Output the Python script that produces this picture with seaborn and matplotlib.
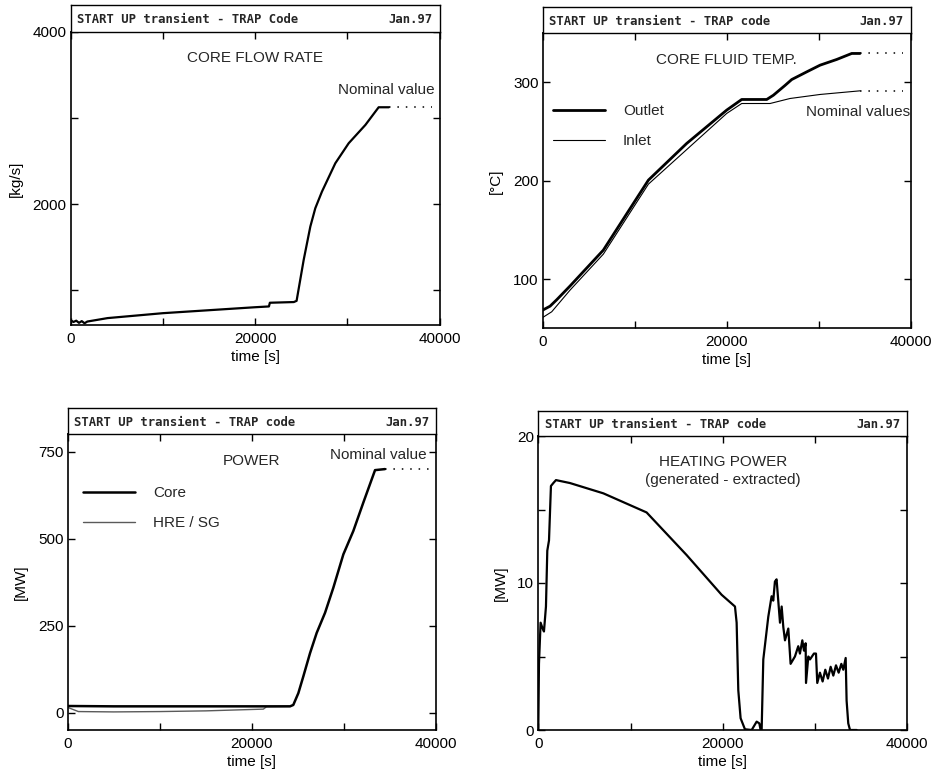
import numpy as np
import pandas as pd
import matplotlib
matplotlib.use("Agg")
import matplotlib.pyplot as plt
import seaborn as sns

# -----------------------------
# DATA
# -----------------------------

flow_t = [0, 300, 600, 900, 1200, 1500, 1800, 4000, 10000, 20000, 21500, 21600,
          24200, 24500, 25270, 25990, 26530, 27250, 28700, 30150, 31960, 33400, 34500]
flow_v = [655, 635, 650, 625, 645, 620, 640, 680, 737, 806, 815, 858,
          866, 880, 1355, 1741, 1954, 2146, 2475, 2707, 2919, 3124, 3124]
flow_nominal = 3124

temp_out_t = [0, 800, 1520, 2970, 6590, 11490, 15650, 20000, 21630, 24350, 25070,
              26340, 27070, 28700, 30150, 31960, 33590, 34490]
temp_out_v = [68.5, 72.5, 79, 93, 129.5, 200.7, 238, 271.9, 282.7, 282.7, 287,
              297, 303, 310.8, 317.6, 323.4, 329.5, 329.5]
temp_in_t = [0, 980, 2970, 6590, 11490, 20000, 21630, 24710, 26880, 30150, 34490]
temp_in_v = [61, 66.8, 88.8, 125.4, 196.6, 268.5, 278.6, 278.6, 283.7, 287.8, 291.5]
temp_out_nominal = 329.5
temp_in_nominal = 291.5

core_t = [0, 5000, 10000, 20000, 24150, 24500, 25050, 25590, 26320, 27040, 27950,
          28850, 29940, 31020, 32110, 33380, 34460]
core_v = [19, 18, 18, 18, 18, 22, 56, 104, 171, 229, 287, 359, 455, 522, 604, 697, 700]
hre_t = [0, 1160, 5000, 10000, 15000, 21250, 21600, 24150]
hre_v = [15, 3, 2, 3, 5, 10, 17, 18]
power_nominal = 700

heat_t = [0, 72, 250, 470, 614, 830, 975, 1160, 1370, 1630, 1915, 3430, 7050, 11380,
          11740, 16080, 19870, 21320, 21500, 21680, 21930, 22400, 23130, 23670, 23960,
          24100, 24210, 24390, 24930, 25290, 25470, 25650, 25830, 26200, 26380, 26560,
          26740, 27100, 27350, 27820, 28180, 28360, 28620, 28800, 28980, 29020, 29270,
          29450, 29880, 30100, 30240, 30530, 30820, 31110, 31400, 31690, 31980, 32270,
          32560, 32850, 33060, 33320, 33420, 33600, 33790, 34510]
heat_v = [0, 4.5, 7.3, 6.9, 6.7, 8.4, 12.2, 12.9, 16.6, 16.8, 17.0, 16.8, 16.1, 14.9,
          14.8, 11.9, 9.2, 8.4, 7.3, 2.7, 0.8, 0.05, 0, 0.57, 0.45,
          0, 0, 4.8, 7.7, 9.1, 8.8, 10.1, 10.25, 7.3, 8.4, 7.0,
          6.1, 6.9, 4.5, 5.0, 5.7, 5.2, 6.1, 5.4, 5.9, 3.2, 5.0,
          4.8, 5.2, 5.2, 3.2, 3.9, 3.3, 4.1, 3.5, 4.3, 3.7, 4.4,
          3.9, 4.5, 4.1, 4.9, 2.0, 0.45, 0, 0]

nominal_t = [34500, 39200]

# -----------------------------
# STYLE
# -----------------------------

sns.set_theme(style="ticks")
plt.rcParams['font.family'] = ['Liberation Sans', 'DejaVu Sans']
plt.rcParams['font.size'] = 11
plt.rcParams['axes.linewidth'] = 1.2

FS = 11
W, H = 935, 774
fig = plt.figure(figsize=(W / 100, H / 100), dpi=100)


def make_panel(left, top, right, bottom, header_h, header_text):
    ax = fig.add_axes([left / W, 1 - bottom / H, (right - left) / W, (bottom - top) / H])
    hd = fig.add_axes([left / W, 1 - top / H, (right - left) / W, header_h / H])
    hd.set_xticks([])
    hd.set_yticks([])
    for s in hd.spines.values():
        s.set_linewidth(1.0)
        s.set_color("black")
    hd.text(0.017, 0.45, header_text, family="DejaVu Sans Mono", fontsize=8.8,
            weight="semibold", va="center", ha="left", transform=hd.transAxes)
    hd.text(0.982, 0.45, "Jan.97", family="DejaVu Sans Mono", fontsize=8.8,
            weight="semibold", va="center", ha="right", transform=hd.transAxes)
    for s in ax.spines.values():
        s.set_visible(True)
        s.set_color("black")
    ax.tick_params(direction="in", length=5, width=1.0, top=True, right=True,
                   colors="black", labelsize=FS)
    ax.tick_params(axis="x", pad=5)
    ax.tick_params(axis="y", pad=3)
    ax.set_xlim(0, 40000)
    ax.set_xticks([0, 10000, 20000, 30000, 40000])
    ax.set_xticklabels(["0", "", "20000", "", "40000"])
    ax.set_xlabel("time [s]", labelpad=3, fontsize=FS, color="black")
    return ax


def nominal(ax, value):
    sns.lineplot(x=nominal_t, y=[value, value], ax=ax, color="black",
                 linewidth=1.1, linestyle=(0, (1, 4.5)))


# ----------------------------------------------------------
# 1. CORE FLOW RATE
# ----------------------------------------------------------

ax1 = make_panel(70.7, 31.7, 439.5, 325, 26.5, "START UP transient - TRAP Code")
sns.lineplot(x=flow_t, y=flow_v, ax=ax1, color="black", linewidth=1.6)
nominal(ax1, flow_nominal)
ax1.set_ylim(600, 4000)
ax1.set_yticks([1000, 2000, 3000, 4000])
ax1.set_yticklabels(["", "2000", "", "4000"])
ax1.set_ylabel("[kg/s]", labelpad=7, fontsize=FS, color="black")
ax1.text(20000, 3690, "CORE FLOW RATE", ha="center", va="center", fontsize=FS)
ax1.text(39500, 3320, "Nominal value", ha="right", va="center", fontsize=FS)

# ----------------------------------------------------------
# 2. CORE FLUID TEMP.
# ----------------------------------------------------------

ax2 = make_panel(542.7, 33.3, 910.7, 328.3, 26, "START UP transient - TRAP code")
sns.lineplot(x=temp_out_t, y=temp_out_v, ax=ax2, color="black", linewidth=2.0,
             label="Outlet")
sns.lineplot(x=temp_in_t, y=temp_in_v, ax=ax2, color="black", linewidth=0.8,
             label="Inlet")
nominal(ax2, temp_out_nominal)
nominal(ax2, temp_in_nominal)
ax2.set_ylim(50, 350)
ax2.set_yticks([100, 200, 300])
ax2.set_ylabel("[°C]", labelpad=7, fontsize=FS, color="black")
ax2.text(20000, 322.7, "CORE FLUID TEMP.", ha="center", va="center", fontsize=FS)
ax2.text(39900, 270, "Nominal values", ha="right", va="center", fontsize=FS)
ax2.legend(loc="upper left", bbox_to_anchor=(0.027, 0.76), frameon=False,
           borderpad=0, borderaxespad=0, handlelength=3.4, handletextpad=1.2,
           labelspacing=1.05, fontsize=FS)

# ----------------------------------------------------------
# 3. POWER
# ----------------------------------------------------------

ax3 = make_panel(67.7, 434.3, 436, 730, 26, "START UP transient - TRAP code")
sns.lineplot(x=hre_t, y=hre_v, ax=ax3, color="#5a5a5a", linewidth=1.0,
             label="HRE / SG")
sns.lineplot(x=core_t, y=core_v, ax=ax3, color="black", linewidth=1.8,
             label="Core")
nominal(ax3, power_nominal)
ax3.set_ylim(-50, 800)
ax3.set_yticks([0, 250, 500, 750])
ax3.set_ylabel("[MW]", labelpad=7, fontsize=FS, color="black")
ax3.text(20000, 724, "POWER", ha="center", va="center", fontsize=FS)
ax3.text(39000, 740, "Nominal value", ha="right", va="center", fontsize=FS)
handles, labels = ax3.get_legend_handles_labels()
ax3.legend(handles[::-1], labels[::-1], loc="upper left",
           bbox_to_anchor=(0.042, 0.825), frameon=False, borderpad=0,
           borderaxespad=0, handlelength=3.4, handletextpad=1.2,
           labelspacing=1.05, fontsize=FS)

# ----------------------------------------------------------
# 4. HEATING POWER
# ----------------------------------------------------------

ax4 = make_panel(538.3, 436, 907.3, 730, 25.3, "START UP transient - TRAP code")
sns.lineplot(x=heat_t, y=heat_v, ax=ax4, color="black", linewidth=1.6)
ax4.set_ylim(0, 20)
ax4.set_yticks([0, 5, 10, 15, 20])
ax4.set_yticklabels(["0", "", "10", "", "20"])
ax4.set_ylabel("[MW]", labelpad=7, fontsize=FS, color="black")
ax4.text(20000, 18.2, "HEATING POWER", ha="center", va="center", fontsize=FS)
ax4.text(20000, 17.0, "(generated - extracted)", ha="center", va="center", fontsize=FS)

fig.savefig("out.png", dpi=100)
